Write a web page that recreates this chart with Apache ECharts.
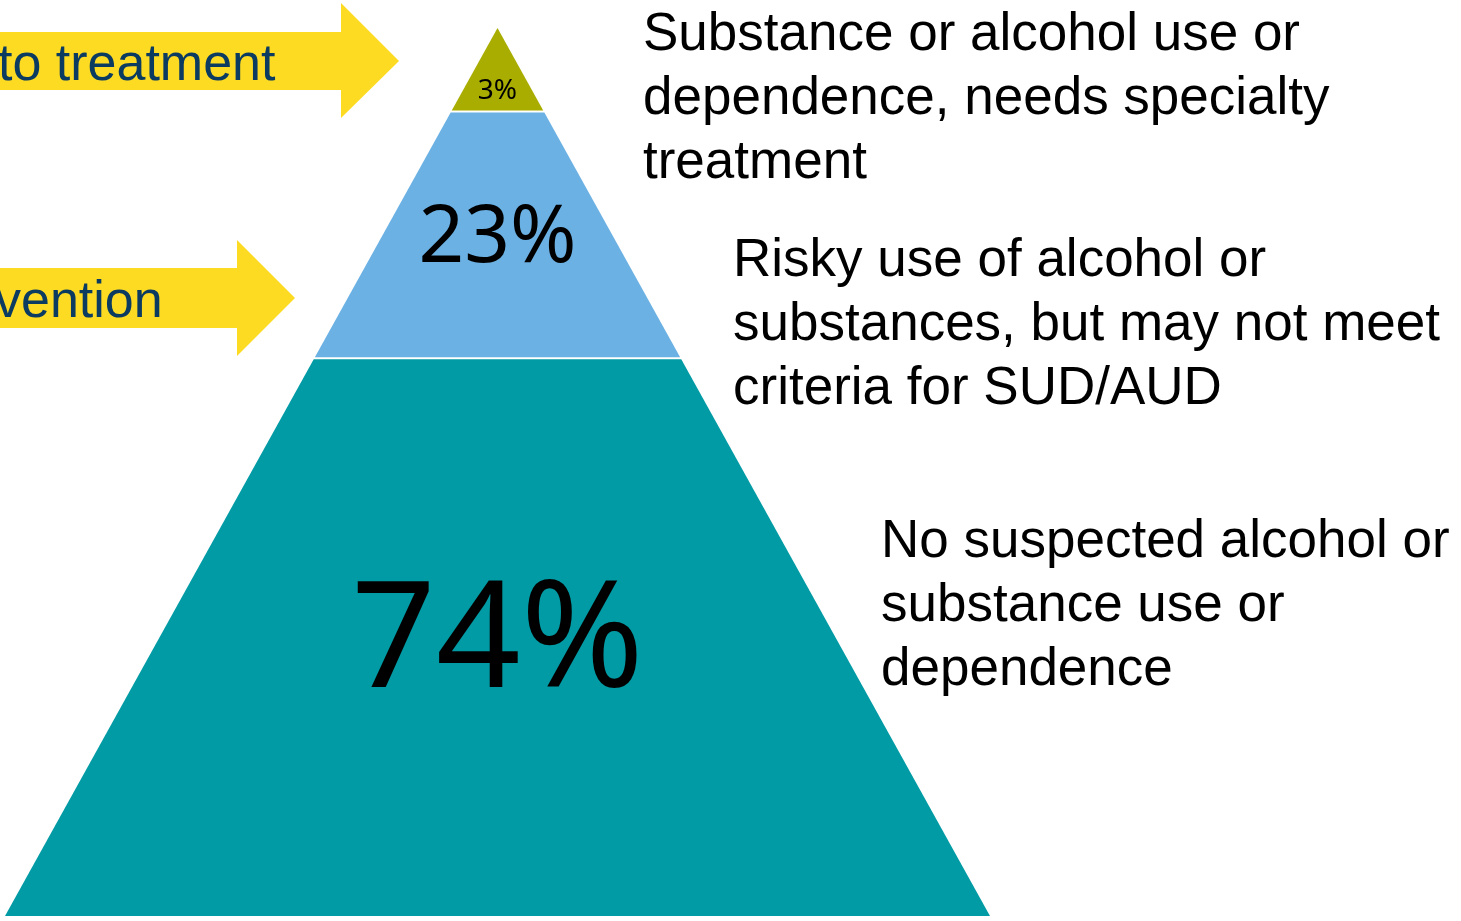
<!DOCTYPE html>
<html>
<head>
<meta charset="utf-8">
<script src="https://cdn.jsdelivr.net/npm/echarts@6/dist/echarts.min.js"></script>
<style>
html,body{margin:0;padding:0;background:#fff;}
#main{width:1461px;height:921px;}
</style>
</head>
<body>
<div id="main"></div>
<script>
// ---- data (bottom tier first) ----
const tierPercents = [74, 23, 3];
const tierLabels = ['74%', '23%', '3%'];
// tier boundaries as a fraction of pyramid height (bottom = 0, apex = 1)
const tierBounds = [0, 0.628, 0.906, 1];
const tierDescriptions = [
  'No suspected alcohol or\nsubstance use or\ndependence',
  'Risky use of alcohol or\nsubstances, but may not meet\ncriteria for SUD/AUD',
  'Substance or alcohol use or\ndependence, needs specialty\ntreatment'
];
const arrowLabels = ['to treatment', 'vention'];

// ---- styles / layout ----
const tierColors = ['#009ba4', '#6bb1e4', '#a9ad00'];
const labelFontSizes = [148, 80, 28];
const labelPosFrac = [0.487, 0.484, 0.24];
const descPos = [[881, 510], [733, 229], [643, 3]];
const labelFont = '"Noto Sans", "Open Sans", sans-serif';

const seriesData = tierPercents.map((p, i) => [tierBounds[i], tierBounds[i + 1], p, i]);

const chart = echarts.init(document.getElementById('main'), null, {renderer: 'canvas'});

function renderItem(params, api) {
  const y0 = api.value(0), y1 = api.value(1), idx = api.value(3);
  const unitY = api.size([0, 1])[1];
  const gap = 1 / unitY;
  const a = y0 > 0 ? y0 + gap : y0;
  const b = y1 < 1 ? y1 - gap : y1;
  const pts = [
    api.coord([-(1 - a), a]),
    api.coord([(1 - a), a]),
    api.coord([(1 - b), b]),
    api.coord([-(1 - b), b])
  ];
  const ly = y0 + (y1 - y0) * labelPosFrac[idx];
  const lp = api.coord([0, ly]);
  return {
    type: 'group',
    children: [
      {type: 'polygon', shape: {points: pts}, style: {fill: tierColors[idx]}},
      {type: 'text', x: lp[0], y: lp[1], style: {
        text: tierLabels[idx], fill: '#000', fontFamily: labelFont,
        fontSize: labelFontSizes[idx], align: 'center', verticalAlign: 'middle'
      }}
    ]
  };
}

const graphics = [];
// arrows
graphics.push({type: 'polygon', shape: {points: [[-5, 32], [341, 32], [341, 3], [399, 61], [341, 118], [341, 90], [-5, 90]]}, style: {fill: '#fddb23'}});
graphics.push({type: 'polygon', shape: {points: [[-5, 268], [237, 268], [237, 240], [295, 298], [237, 356], [237, 328], [-5, 328]]}, style: {fill: '#fddb23'}});
graphics.push({type: 'text', x: -2, y: 66, style: {text: arrowLabels[0], fill: '#0b3b60', fontFamily: 'Liberation Sans', fontSize: 52, verticalAlign: 'middle'}});
graphics.push({type: 'text', x: -5, y: 303, style: {text: arrowLabels[1], fill: '#0b3b60', fontFamily: 'Liberation Sans', fontSize: 52, verticalAlign: 'middle'}});
tierDescriptions.forEach((t, i) => {
  graphics.push({type: 'text', x: descPos[i][0], y: descPos[i][1], style: {
    text: t, fill: '#000', fontFamily: 'Liberation Sans', fontSize: 53, lineHeight: 64, verticalAlign: 'top'
  }});
});

chart.setOption({
  animation: false,
  backgroundColor: '#fff',
  grid: {left: 5, right: 471, top: 28, bottom: 5},
  xAxis: {type: 'value', min: -1, max: 1, show: false},
  yAxis: {type: 'value', min: 0, max: 1, show: false},
  series: [{
    type: 'custom',
    renderItem: renderItem,
    data: seriesData,
    encode: {x: -1, y: [0, 1]},
    clip: false
  }],
  graphic: graphics
});
</script>
</body>
</html>
